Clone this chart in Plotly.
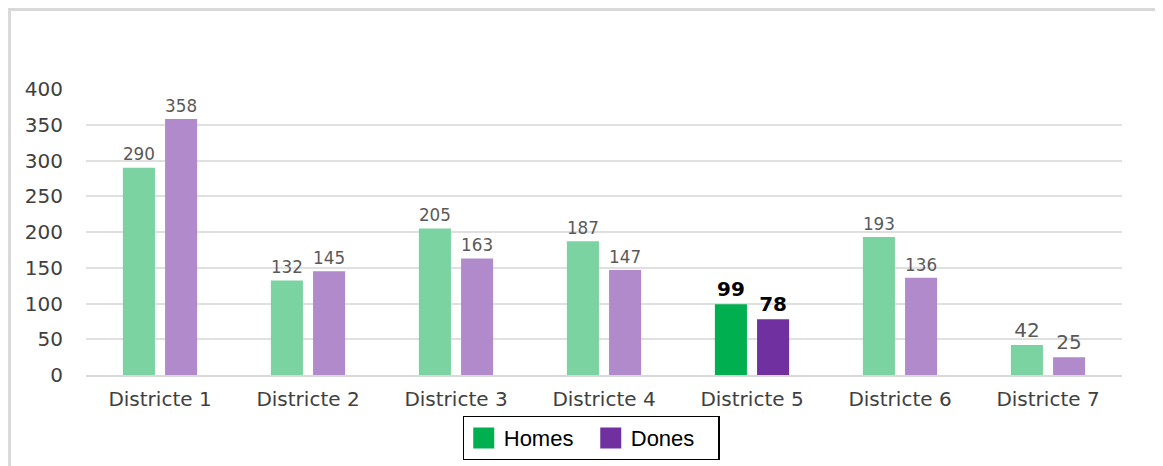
import plotly.graph_objects as go

categories = ["Districte 1", "Districte 2", "Districte 3", "Districte 4",
              "Districte 5", "Districte 6", "Districte 7"]
homes = [290, 132, 205, 187, 99, 193, 42]
dones = [358, 145, 163, 147, 78, 136, 25]
y_ticks = [0, 50, 100, 150, 200, 250, 300, 350, 400]
highlight = "Districte 5"

homes_light, homes_dark = "#7ad3a0", "#00b050"
dones_light, dones_dark = "#b18acb", "#7030a0"


def colors(light, dark):
    return [dark if c == highlight else light for c in categories]


def labels(vals):
    return [f"<b>{v}</b>" if c == highlight else str(v) for c, v in zip(categories, vals)]


def label_colors():
    return ["#000000" if c == highlight else "#595959" for c in categories]


fig = go.Figure()
fig.add_trace(go.Bar(
    x=categories, y=homes, name="Homes", marker=dict(color=colors(homes_light, homes_dark), line_width=0),
    text=labels(homes), textposition="outside", textangle=0, cliponaxis=False,
    textfont=dict(family="DejaVu Sans", size=20, color=label_colors()),
    showlegend=False,
))
fig.add_trace(go.Bar(
    x=categories, y=dones, name="Dones", marker=dict(color=colors(dones_light, dones_dark), line_width=0),
    text=labels(dones), textposition="outside", textangle=0, cliponaxis=False,
    textfont=dict(family="DejaVu Sans", size=20, color=label_colors()),
    showlegend=False,
))
# legend entries
fig.add_trace(go.Scatter(x=[None], y=[None], mode="markers", name="Homes",
                         marker=dict(symbol="square", size=16, color=homes_dark,
                                     line=dict(color=homes_dark, width=8))))
fig.add_trace(go.Scatter(x=[None], y=[None], mode="markers", name="Dones",
                         marker=dict(symbol="square", size=16, color=dones_dark,
                                     line=dict(color=dones_dark, width=8))))

fig.update_layout(
    width=1155, height=470,
    margin=dict(l=78, r=41, t=81, b=103),
    paper_bgcolor="white", plot_bgcolor="white",
    barmode="group", bargap=0.43, bargroupgap=0.24,
    legend=dict(
        orientation="h",
        x=0.4875, xanchor="center", y=-0.143, yanchor="top",
        bordercolor="#000000", borderwidth=1.2, bgcolor="white",
        font=dict(family="Liberation Sans", size=22, color="#000000"),
        itemsizing="trace", entrywidth=82,
    ),
    xaxis=dict(
        showgrid=False, showline=True, linecolor="#d9d9d9", linewidth=1.5,
        tickfont=dict(family="DejaVu Sans", size=20, color="#404040"),
        ticks="", ticklabelstandoff=5,
    ),
    yaxis=dict(
        range=[0, 400], tickvals=y_ticks, showgrid=True, gridcolor="#e0e0e0", gridwidth=1.5,
        zeroline=False, showline=False,
        tickfont=dict(family="DejaVu Sans", size=20, color="#404040"),
        ticks="", ticklabelstandoff=22,
    ),
    shapes=[dict(type="rect", xref="paper", yref="paper",
                 x0=-0.0738, x1=1.1, y0=-0.4, y1=1.278,
                 line=dict(color="#d9d9d9", width=3), fillcolor="rgba(0,0,0,0)", layer="below")],
)

fig.write_html("out.html")
